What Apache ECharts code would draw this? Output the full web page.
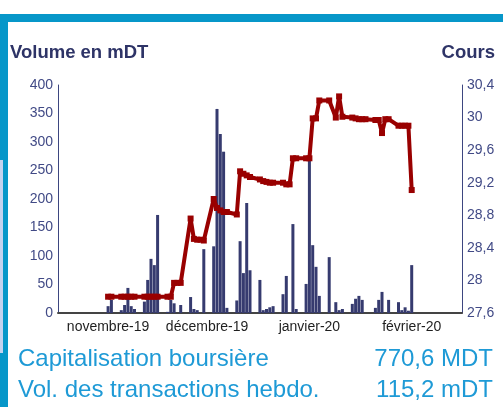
<!DOCTYPE html>
<html>
<head>
<meta charset="utf-8">
<script src="https://cdn.jsdelivr.net/npm/echarts@6/dist/echarts.min.js"></script>
<style>
  html, body { margin: 0; padding: 0; background: #fff; }
  #chart { width: 503px; height: 407px; }
</style>
</head>
<body>
<div id="chart"></div>
<script>
// jours de bourse
const dates = [
  '2019-10-31', '2019-11-01',
  '2019-11-04', '2019-11-05', '2019-11-06', '2019-11-07', '2019-11-08',
  '2019-11-11', '2019-11-12', '2019-11-13', '2019-11-14', '2019-11-15',
  '2019-11-18', '2019-11-19', '2019-11-20', '2019-11-21', '2019-11-22',
  '2019-11-25', '2019-11-26', '2019-11-27', '2019-11-28', '2019-11-29',
  '2019-12-02', '2019-12-03', '2019-12-04', '2019-12-05', '2019-12-06',
  '2019-12-09', '2019-12-10', '2019-12-11', '2019-12-12', '2019-12-13',
  '2019-12-16', '2019-12-17', '2019-12-18', '2019-12-19', '2019-12-20',
  '2019-12-23', '2019-12-24', '2019-12-25', '2019-12-26', '2019-12-27',
  '2019-12-30', '2019-12-31', '2020-01-01', '2020-01-02', '2020-01-03',
  '2020-01-06', '2020-01-08', '2020-01-09', '2020-01-10',
  '2020-01-13', '2020-01-14', '2020-01-15', '2020-01-16', '2020-01-17',
  '2020-01-20', '2020-01-21', '2020-01-22', '2020-01-23', '2020-01-24',
  '2020-01-27', '2020-01-28', '2020-01-29', '2020-01-30', '2020-01-31',
];

// volume en mDT
const volumes = [
  12, 23,
  5, 14, 44, 12, 7,
  20, 58, 95, 84, 172,
  2, 23, 17, 0, 14,
  28, 7, 5, 0, 112,
  117, 358, 314, 283, 9,
  22, 126, 70, 193, 75,
  58, 5, 7, 10, 12,
  33, 65, 0, 156, 7,
  51, 267, 119, 81, 30,
  98, 19, 5, 7,
  16, 25, 30, 23, 0,
  9, 23, 37, 0, 23,
  19, 5, 10, 4, 84,
];

// cours
const prices = [
  27.8, 27.8,
  27.8, 27.8, 27.8, 27.8, 27.8,
  27.8, 27.8, 27.8, 27.8, 27.8,
  27.8, 27.8, 27.97, 27.97, 27.97,
  28.76, 28.51, 28.5, 28.5, 28.49,
  29.0, 28.89, 28.86, 28.84, 28.84,
  28.81, 29.34, 29.31, 29.29, 29.27,
  29.24, 29.22, 29.21, 29.2, 29.2,
  29.2, 29.18, 29.18, 29.5, 29.5,
  29.5, 29.5, 29.99, 29.99, 30.21,
  30.21, 30.0, 30.26, 30.01,
  30.0, 29.99, 29.98, 29.98, 29.98,
  29.97, 29.97, 29.81, 29.98, 29.98,
  29.9, 29.9, 29.9, 29.9, 29.11,
];

// étiquettes de l'axe des dates
const monthLabels = ['novembre-19', 'décembre-19', 'janvier-20', 'février-20'];
const monthTickDates = ['2019-10-31', '2019-11-30', '2019-12-31', '2020-01-31'];

const volumeTicks = { min: 0, max: 400, interval: 50 };
const priceTicks = { min: 27.6, max: 30.4, interval: 0.4 };

const capLabel = 'Capitalisation boursière';
const capValue = '770,6 MDT';
const volLabel = 'Vol. des transactions hebdo.';
const volValue = '115,2 mDT';

function dayNum(s) {
  const p = s.split('-').map(Number);
  return Date.UTC(p[0], p[1] - 1, p[2]) / 864e5;
}

const refDay = dayNum('2019-11-01');
const monthTickDays = monthTickDates.map(dayNum);
const navy = '#363b6f';
const labelNavy = '#414a86';
const frameBlue = '#0797c9';
const textBlue = '#1e9ad6';
const font = '"Liberation Sans", Arial, sans-serif';

function monthName(v) {
  const i = monthTickDays.findIndex((d) => Math.abs(d - v) < 0.5);
  return i < 0 ? '' : monthLabels[i];
}

const chart = echarts.init(document.getElementById('chart'));

chart.setOption({
  animation: false,
  backgroundColor: '#fff',
  grid: { left: 58, right: 41, top: 85, bottom: 94 },
  xAxis: {
    type: 'value',
    min: refDay - 16.18,
    max: refDay + 106.24,
    splitLine: { show: false },
    axisLine: { lineStyle: { color: '#444', width: 2 } },
    axisTick: { show: false, customValues: monthTickDays },
    axisLabel: {
      customValues: monthTickDays,
      formatter: (v) => monthName(v),
      hideOverlap: false,
      color: '#1e1e1e',
      fontSize: 14,
      fontFamily: font,
      margin: 7,
    },
  },
  yAxis: [
    {
      type: 'value',
      min: volumeTicks.min,
      max: volumeTicks.max,
      interval: volumeTicks.interval,
      splitLine: { show: false },
      axisTick: { show: false },
      axisLine: { show: true, lineStyle: { color: '#3d4680', width: 1 } },
      axisLabel: { color: labelNavy, fontSize: 14, fontFamily: font, margin: 5 },
    },
    {
      type: 'value',
      position: 'right',
      min: priceTicks.min,
      max: priceTicks.max,
      interval: priceTicks.interval,
      splitLine: { show: false },
      axisTick: { show: false },
      axisLine: { show: true, lineStyle: { color: '#3d4680', width: 1 } },
      axisLabel: {
        color: labelNavy,
        fontSize: 14,
        fontFamily: font,
        margin: 5,
        formatter: (v) => String(+v.toFixed(1)).replace('.', ','),
      },
    },
  ],
  series: [
    {
      type: 'bar',
      yAxisIndex: 0,
      barWidth: 3,
      itemStyle: { color: navy },
      data: dates.map((d, i) => [dayNum(d), volumes[i]]),
      z: 2,
    },
    {
      type: 'line',
      yAxisIndex: 1,
      symbol: 'rect',
      symbolSize: 6,
      itemStyle: { color: '#990000' },
      lineStyle: { color: '#990000', width: 4 },
      data: dates.map((d, i) => [dayNum(d), prices[i]]),
      z: 3,
    },
  ],
  graphic: [
    { type: 'rect', shape: { x: 0, y: 14, width: 503, height: 8 }, style: { fill: frameBlue } },
    { type: 'rect', shape: { x: 0, y: 14, width: 8, height: 393 }, style: { fill: frameBlue } },
    { type: 'rect', shape: { x: 0, y: 160, width: 3, height: 193 }, style: { fill: '#c5d3ef' } },
    {
      type: 'text', left: 10, top: 43,
      style: { text: 'Volume en mDT', fill: '#2e3467', font: 'bold 18.5px ' + font },
    },
    {
      type: 'text', right: 8, top: 43,
      style: { text: 'Cours', fill: '#2e3467', font: 'bold 18.5px ' + font },
    },
    {
      type: 'text', left: 18, top: 347,
      style: { text: capLabel, fill: textBlue, font: '24px ' + font },
    },
    {
      type: 'text', right: 10, top: 347,
      style: { text: capValue, fill: textBlue, font: '24px ' + font },
    },
    {
      type: 'text', left: 18, top: 378,
      style: { text: volLabel, fill: textBlue, font: '24px ' + font },
    },
    {
      type: 'text', right: 10, top: 378,
      style: { text: volValue, fill: textBlue, font: '24px ' + font },
    },
  ],
});
</script>
</body>
</html>
